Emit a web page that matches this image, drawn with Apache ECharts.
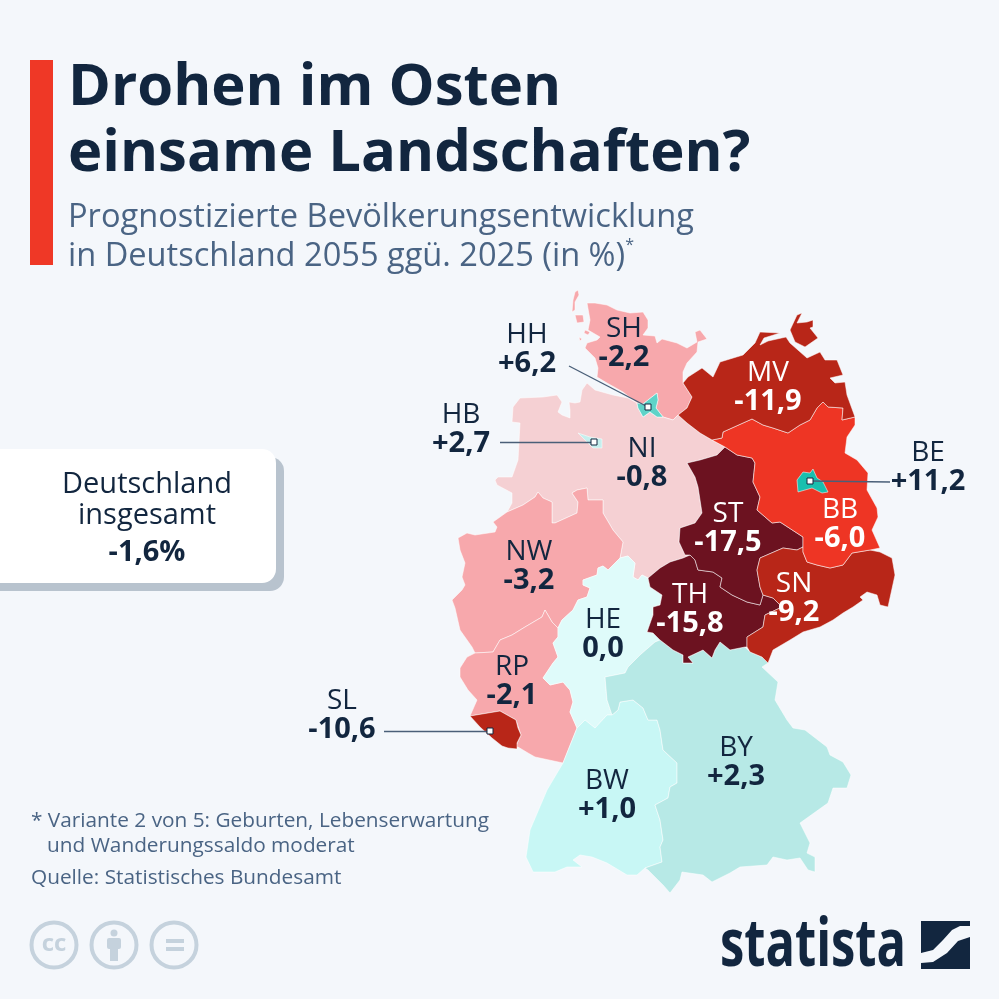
<!DOCTYPE html>
<html>
<head>
<meta charset="utf-8">
<title>Drohen im Osten einsame Landschaften?</title>
<script src="https://cdn.jsdelivr.net/npm/echarts@6/dist/echarts.min.js"></script>
<style>
  html, body { margin: 0; padding: 0; background: #f4f7fb; }
  #main { width: 999px; height: 999px; }
</style>
</head>
<body>
<div id="main"></div>
<script>
// Werte je Bundesland
const states = ['SH', 'NI', 'NW', 'RP', 'SL', 'HE', 'BW', 'BY', 'TH', 'ST', 'SN', 'BB', 'MV', 'HH', 'HB', 'BE'];
const values = [-2.2, -0.8, -3.2, -2.1, -10.6, 0.0, 1.0, 2.3, -15.8, -17.5, -9.2, -6.0, -11.9, 6.2, 2.7, 11.2];
const whiteLabels = ['MV', 'BB', 'ST', 'TH', 'SN'];
const germanyTotal = '-1,6%';

// Umrisse der Länder (Karteneinheiten, y nach unten)
const shapeSH = [
  [[587,303],[595,303],[607,305],[617,310],[630,313],[643,312],[648,320],[648,328],[643,335],[655,336],[657,343],[662,339],[677,343],[687,348],[697,342],[695,332],[700,330],[707,339],[698,342],[697,352],[687,363],[683,372],[683,383],[692,397],[687,408],[678,415],[673,420],[663,417],[656,408],[658,400],[657,393],[648,400],[643,404],[637,403],[623,392],[607,383],[597,377],[598,368],[595,358],[585,348],[587,343],[597,340],[600,337],[588,330],[590,320]],
  [[578,290],[575,292],[573,300],[572,312],[575,310],[575,302],[579,295]],
  [[575,315],[583,315],[584,322],[577,323]],
  [[585,330],[590,332],[588,335],[584,333]],
  [[579,337],[582,339],[580,341]]
];
const shapeNI = [
  [[587,383],[595,390],[613,395],[628,398],[637,403],[638,408],[643,417],[650,412],[657,417],[663,417],[673,420],[678,415],[687,423],[700,433],[712,440],[725,447],[717,455],[700,460],[687,463],[695,477],[698,487],[700,500],[702,513],[695,523],[680,528],[679,542],[685,555],[690,555],[683,558],[670,562],[660,568],[648,578],[642,575],[638,580],[633,577],[635,563],[628,556],[620,558],[623,542],[613,530],[603,513],[603,500],[588,500],[587,488],[577,490],[572,493],[578,502],[577,513],[555,523],[552,523],[552,502],[543,498],[538,492],[535,497],[523,505],[507,512],[512,503],[512,493],[497,485],[495,480],[498,477],[512,477],[518,460],[520,423],[512,422],[513,407],[520,398],[543,397],[557,395],[562,402],[558,412],[562,415],[570,418],[570,410],[569,402],[575,403],[580,402],[582,390]]
];
const shapeNW = [
  [[458,538],[467,533],[475,535],[495,532],[497,527],[493,522],[507,512],[523,505],[535,497],[538,492],[543,498],[552,502],[552,523],[555,523],[577,513],[578,502],[572,493],[577,490],[587,488],[588,500],[603,500],[603,513],[613,530],[623,542],[620,558],[608,570],[603,566],[598,568],[597,575],[583,580],[583,585],[590,588],[587,597],[578,600],[573,610],[562,620],[558,628],[552,622],[545,610],[542,617],[525,627],[512,635],[500,640],[493,652],[475,653],[472,647],[460,630],[455,608],[452,600],[462,590],[465,585],[462,577],[465,563],[460,550]]
];
const shapeRP = [
  [[475,653],[493,652],[500,640],[512,635],[525,627],[542,617],[545,610],[552,622],[558,628],[558,637],[553,643],[558,657],[553,663],[543,678],[550,685],[563,682],[570,690],[573,702],[570,712],[577,728],[563,763],[535,757],[528,753],[518,747],[515,748],[521,735],[516,720],[500,711],[470,716],[477,700],[468,690],[460,677],[460,668],[467,657]]
];
const shapeSL = [
  [[470,716],[500,711],[516,720],[518,728],[521,735],[517,743],[517,749],[508,748],[502,746],[492,738],[480,727]]
];
const shapeHE = [
  [[597,575],[598,568],[603,566],[608,570],[620,558],[628,556],[635,563],[633,577],[638,580],[642,575],[648,578],[650,587],[662,595],[660,605],[653,607],[653,615],[647,632],[653,633],[660,640],[655,642],[640,655],[628,667],[625,673],[605,677],[607,700],[612,715],[607,715],[595,728],[585,720],[577,728],[570,712],[573,702],[570,690],[563,682],[550,685],[543,678],[553,663],[558,657],[553,643],[558,637],[558,628],[562,620],[573,610],[578,600],[587,597],[590,588],[583,585],[583,580]]
];
const shapeBW = [
  [[577,728],[585,720],[595,728],[607,715],[612,715],[618,710],[620,702],[633,700],[643,708],[648,720],[657,720],[660,730],[663,750],[677,763],[677,783],[670,787],[668,798],[655,805],[660,820],[663,840],[660,847],[662,862],[645,868],[637,875],[627,875],[607,863],[592,857],[580,855],[573,860],[582,867],[567,867],[555,872],[533,872],[526,857],[530,830],[547,790],[563,763]]
];
const shapeBY = [
  [[605,677],[625,673],[628,667],[640,655],[655,642],[660,640],[673,650],[683,655],[683,663],[693,663],[688,657],[703,650],[712,658],[715,650],[720,642],[730,650],[745,647],[750,652],[762,657],[768,663],[762,667],[778,682],[775,700],[787,720],[793,728],[805,730],[827,747],[830,755],[843,762],[851,775],[847,788],[833,788],[828,803],[800,823],[810,843],[807,853],[815,857],[815,872],[808,870],[800,858],[787,860],[773,857],[767,865],[740,867],[730,873],[712,882],[703,875],[682,872],[680,880],[670,893],[663,885],[648,870],[645,868],[662,862],[660,847],[663,840],[660,820],[655,805],[668,798],[670,787],[677,783],[677,763],[663,750],[660,730],[657,720],[648,720],[643,708],[633,700],[620,702],[618,710],[612,715],[607,700]]
];
const shapeTH = [
  [[648,578],[660,568],[670,562],[683,558],[690,555],[695,560],[698,570],[713,572],[722,578],[720,587],[732,595],[747,602],[760,605],[763,595],[773,598],[782,607],[765,615],[763,627],[747,637],[747,647],[745,647],[730,650],[720,642],[715,650],[712,658],[703,650],[688,657],[693,663],[683,663],[683,655],[673,650],[660,640],[653,633],[647,632],[653,615],[653,607],[660,605],[662,595],[650,587]]
];
const shapeST = [
  [[725,447],[737,455],[752,458],[755,463],[753,482],[760,497],[757,510],[772,523],[780,522],[803,537],[803,547],[797,550],[783,548],[760,558],[757,570],[760,587],[763,595],[760,605],[747,602],[732,595],[720,587],[722,578],[713,572],[698,570],[695,560],[690,555],[685,555],[679,542],[680,528],[695,523],[702,513],[700,500],[698,487],[695,477],[687,463],[700,460],[717,455]]
];
const shapeSN = [
  [[797,550],[803,547],[803,552],[807,562],[817,565],[830,568],[843,565],[852,553],[870,550],[880,552],[892,558],[895,575],[888,607],[880,605],[877,595],[867,592],[860,597],[863,600],[853,607],[843,613],[833,620],[820,627],[803,632],[790,640],[773,650],[768,663],[762,657],[750,652],[747,647],[747,637],[763,627],[765,615],[782,607],[773,598],[763,595],[760,587],[757,570],[760,558],[783,548]]
];
const shapeBB = [
  [[712,440],[722,438],[723,432],[743,423],[752,419],[763,425],[773,428],[788,433],[800,425],[810,420],[817,408],[823,402],[828,407],[843,408],[842,420],[855,417],[855,425],[847,437],[845,453],[857,460],[868,473],[867,490],[877,508],[878,517],[872,530],[880,548],[870,550],[852,553],[843,565],[830,568],[817,565],[807,562],[803,552],[803,537],[780,522],[772,523],[757,510],[760,497],[753,482],[755,463],[752,458],[737,455],[725,447]]
];
const shapeMV = [
  [[683,383],[688,377],[702,368],[713,377],[720,362],[743,355],[755,343],[760,332],[780,333],[764,338],[760,345],[768,341],[786,337],[790,343],[807,358],[820,352],[825,360],[837,360],[843,375],[830,378],[835,383],[845,382],[847,395],[855,417],[842,420],[843,408],[828,407],[823,402],[817,408],[810,420],[800,425],[788,433],[773,428],[763,425],[752,419],[743,423],[723,432],[722,438],[712,440],[700,433],[687,423],[678,415],[687,408],[692,397]],
  [[790,330],[797,315],[802,313],[797,323],[807,322],[813,320],[813,327],[810,328],[818,338],[805,347],[795,342]]
];
const shapeHH = [
  [[637,403],[643,404],[648,400],[657,393],[658,400],[656,408],[663,417],[657,417],[650,412],[643,417],[638,408]]
];
const shapeHB = [
  [[578,433],[590,437],[602,439],[602,448],[593,448],[585,440]]
];
const shapeBE = [
  [[813,469],[817,478],[823,482],[828,492],[822,493],[812,488],[798,492],[797,480],[803,472],[810,473]]
];
const shapes = [shapeSH, shapeNI, shapeNW, shapeRP, shapeSL, shapeHE, shapeBW, shapeBY, shapeTH, shapeST, shapeSN, shapeBB, shapeMV, shapeHH, shapeHB, shapeBE];

// wo die Beschriftung sitzt
const labelAt = [[624,343.5],[642,463.5],[529,566.5],[512,681.5],[342,715.5],[603,634.5],[607,795.5],[736,762.5],[690,609.5],[728,528.5],[794,598.5],[840,524.5],[768,387.5],[527,349.5],[461,429.5],[928,467.5]];

// Hinweislinien der kleinen Länder
const leaderStart = [[569,366],[500,442],[890,482],[384,731]];
const leaderEnd = [[648,407],[594,442],[810,481],[490,731]];

function flip(p) {
  return [p[0], -p[1]];
}

function fmt(v) {
  return (v > 0 ? '+' : '') + v.toFixed(1).replace('.', ',');
}

const geoJson = {
  type: 'FeatureCollection',
  features: states.map((name, i) => ({
    type: 'Feature',
    properties: { name: name, cp: flip(labelAt[i]) },
    geometry: {
      type: 'MultiPolygon',
      coordinates: shapes[i].map(ring => [ring.concat([ring[0]]).map(flip)])
    }
  }))
};
echarts.registerMap('de', geoJson);

const navy = '#12263f';
const slate = '#4a6484';
const iconGrey = '#c5d2dd';
const font = '"Open Sans", sans-serif';
const bounds = [[0, 0], [999, -999]];

var myChart = echarts.init(document.getElementById('main'), null, { renderer: 'canvas' });

const option = {
  backgroundColor: '#f4f7fb',
  animation: false,
  title: [
    {
      text: 'Drohen im Osten\neinsame Landschaften?',
      left: 68, top: 55, padding: 0,
      textStyle: { fontFamily: font, fontSize: 58, fontWeight: 700, color: navy, lineHeight: 66 }
    },
    {
      text: 'Prognostizierte Bevölkerungsentwicklung\nin Deutschland 2055 ggü. 2025 (in %){s|*}',
      left: 68, top: 198, padding: 0,
      textStyle: {
        fontFamily: font, fontSize: 32.6, fontWeight: 400, color: slate, lineHeight: 39,
        rich: { s: { fontFamily: font, fontSize: 16, fontWeight: 400, color: slate, verticalAlign: 'top', lineHeight: 30 } }
      }
    }
  ],
  visualMap: {
    type: 'piecewise',
    show: false,
    seriesIndex: 0,
    pieces: [
      { max: -15, color: '#6c1220' },
      { min: -15, max: -8, color: '#b82618' },
      { min: -8, max: -4, color: '#ee3524' },
      { min: -4, max: -1.5, color: '#f7a8ac' },
      { min: -1.5, max: -0.01, color: '#f5d0d3' },
      { min: -0.01, max: 0.5, color: '#dffbfa' },
      { min: 0.5, max: 2, color: '#c8f7f5' },
      { min: 2, max: 2.5, color: '#b7e9e6' },
      { min: 2.5, max: 4, color: '#c5efee' },
      { min: 4, max: 8, color: '#5ed3c8' },
      { min: 8, color: '#19bfae' }
    ]
  },
  // unsichtbar, nur Koordinaten für die Hinweislinien
  geo: {
    map: 'de',
    silent: true,
    aspectScale: 1,
    boundingCoords: bounds,
    layoutCenter: ['50%', '50%'],
    layoutSize: 999,
    itemStyle: { areaColor: 'transparent', borderWidth: 0 },
    label: { show: false }
  },
  series: [
    {
      type: 'map',
      map: 'de',
      aspectScale: 1,
      boundingCoords: bounds,
      layoutCenter: ['50%', '50%'],
      layoutSize: 999,
      selectedMode: false,
      silent: true,
      z: 2,
      itemStyle: { borderColor: 'rgba(255,255,255,0.75)', borderWidth: 0.7 },
      label: {
        show: true,
        formatter: function (param) {
          const k = whiteLabels.indexOf(param.name) >= 0 ? 'w' : 'd';
          return '{n' + k + '|' + param.name + '}\n{v' + k + '|' + fmt(param.value) + '}';
        },
        rich: {
          nd: { fontFamily: font, fontSize: 28, color: navy, lineHeight: 29 },
          vd: { fontFamily: font, fontSize: 29, fontWeight: 700, color: navy, lineHeight: 29 },
          nw: { fontFamily: font, fontSize: 28, color: '#fff', lineHeight: 29 },
          vw: { fontFamily: font, fontSize: 29, fontWeight: 700, color: '#fff', lineHeight: 29 }
        }
      },
      data: states.map((name, i) => ({ name: name, value: values[i] }))
    },
    {
      type: 'lines',
      coordinateSystem: 'geo',
      z: 3,
      silent: true,
      symbol: 'none',
      lineStyle: { color: '#4a5f78', width: 1.4, opacity: 1, curveness: 0 },
      data: leaderStart.map((p, i) => ({ coords: [flip(p), flip(leaderEnd[i])] }))
    },
    {
      type: 'scatter',
      coordinateSystem: 'geo',
      z: 4,
      silent: true,
      symbol: 'rect',
      symbolSize: 6,
      itemStyle: { color: '#fff', borderColor: navy, borderWidth: 1, opacity: 1 },
      data: leaderEnd.map(flip)
    }
  ],
  graphic: [
    { type: 'rect', shape: { x: 30, y: 60, width: 23, height: 205 }, style: { fill: '#ef3826' } },

    // Kasten Deutschland insgesamt
    { type: 'rect', shape: { x: -30, y: 457, width: 314, height: 134, r: 14 }, style: { fill: '#b8c3ce' } },
    { type: 'rect', shape: { x: -30, y: 449, width: 306, height: 134, r: 14 }, style: { fill: '#fff' } },
    { type: 'text', x: 147, y: 485, style: { text: 'Deutschland', font: '29px ' + font, fill: navy, align: 'center', verticalAlign: 'middle' } },
    { type: 'text', x: 147, y: 516, style: { text: 'insgesamt', font: '29px ' + font, fill: navy, align: 'center', verticalAlign: 'middle' } },
    { type: 'text', x: 147, y: 553, style: { text: germanyTotal, font: '700 29px ' + font, fill: navy, align: 'center', verticalAlign: 'middle' } },

    // Fussnoten
    { type: 'text', x: 31, y: 821.5, style: { text: '* Variante 2 von 5: Geburten, Lebenserwartung', font: '20.8px ' + font, fill: slate, verticalAlign: 'middle' } },
    { type: 'text', x: 47, y: 846.5, style: { text: 'und Wanderungssaldo moderat', font: '20.8px ' + font, fill: slate, verticalAlign: 'middle' } },
    { type: 'text', x: 31, y: 878.5, style: { text: 'Quelle: Statistisches Bundesamt', font: '20.8px ' + font, fill: slate, verticalAlign: 'middle' } },

    // CC Symbole
    { type: 'circle', shape: { cx: 54, cy: 945, r: 22.5 }, style: { fill: 'none', stroke: iconGrey, lineWidth: 4 } },
    { type: 'text', x: 54, y: 944, style: { text: 'cc', font: '700 24px ' + font, fill: iconGrey, align: 'center', verticalAlign: 'middle' } },
    { type: 'circle', shape: { cx: 114, cy: 945, r: 22.5 }, style: { fill: 'none', stroke: iconGrey, lineWidth: 4 } },
    { type: 'circle', shape: { cx: 114, cy: 933, r: 3.5 }, style: { fill: iconGrey } },
    { type: 'rect', shape: { x: 107, y: 938, width: 14, height: 11, r: 2 }, style: { fill: iconGrey } },
    { type: 'rect', shape: { x: 110, y: 946, width: 8, height: 15 }, style: { fill: iconGrey } },
    { type: 'circle', shape: { cx: 174, cy: 945, r: 22.5 }, style: { fill: 'none', stroke: iconGrey, lineWidth: 4 } },
    { type: 'rect', shape: { x: 166, y: 939, width: 18, height: 4 }, style: { fill: iconGrey } },
    { type: 'rect', shape: { x: 166, y: 947, width: 18, height: 4 }, style: { fill: iconGrey } },

    // Logo
    { type: 'text', x: 720, y: 947, scaleX: 0.74, style: { text: 'statista', font: '700 66px ' + font, fill: navy, verticalAlign: 'middle' } },
    { type: 'rect', shape: { x: 921, y: 921, width: 49, height: 48 }, style: { fill: navy } },
    { type: 'polygon', shape: { points: [[970,926],[960,926],[952,930],[943,940],[933,950],[921,953],[921,963],[933,962],[947,953],[958,941],[970,937]] }, style: { fill: '#f4f7fb' } }
  ]
};
myChart.setOption(option);
</script>
</body>
</html>
